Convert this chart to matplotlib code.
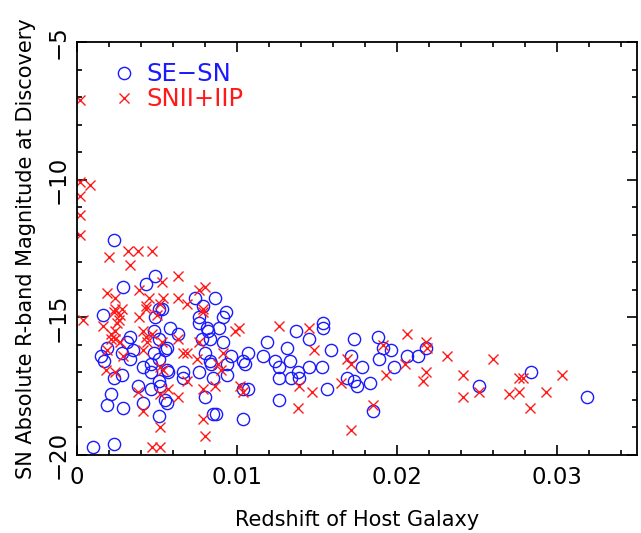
import matplotlib
matplotlib.use('Agg')
import matplotlib.pyplot as plt
from matplotlib.ticker import MultipleLocator

#### Data
# SE-SN (circles): redshift, absolute R mag
se_z = [0.0023, 0.0029, 0.0043, 0.0049, 0.0074, 0.0086, 0.0079, 0.0093, 0.0051, 0.0016,
        0.0076, 0.0091, 0.0049, 0.0033, 0.0031, 0.0019, 0.0015, 0.0017, 0.0028, 0.0033,
        0.0035, 0.0023, 0.0028, 0.0021, 0.0019, 0.0029, 0.0038, 0.0041, 0.0041, 0.0046,
        0.0046, 0.0048, 0.0048, 0.0053, 0.0051, 0.0056, 0.0055, 0.0058, 0.0063, 0.0051,
        0.0056, 0.0057, 0.0051, 0.0052, 0.0046, 0.0055, 0.0056, 0.0051, 0.0066, 0.0066,
        0.0076, 0.0081, 0.0082, 0.0083, 0.0078, 0.0076, 0.0080, 0.0083, 0.0084, 0.0085,
        0.0080, 0.0085, 0.0087, 0.0089, 0.0091, 0.0096, 0.0094, 0.0094, 0.0104, 0.0105,
        0.0107, 0.0104, 0.0107, 0.0104, 0.0116, 0.0119, 0.0010, 0.0023, 0.0124, 0.0126,
        0.0126, 0.0131, 0.0133, 0.0137, 0.0138, 0.0134, 0.0139, 0.0145, 0.0145, 0.0153,
        0.0154, 0.0154, 0.0159, 0.0156, 0.0126, 0.0173, 0.0171, 0.0169, 0.0173, 0.0175,
        0.0178, 0.0183, 0.0188, 0.0191, 0.0196, 0.0189, 0.0198, 0.0206, 0.0213, 0.0218,
        0.0185, 0.0251, 0.0284, 0.0319]
se_mag = [-12.2, -13.9, -13.8, -13.5, -14.3, -14.3, -14.6, -14.8, -14.7, -14.9,
          -15.0, -15.0, -15.0, -15.7, -15.9, -16.1, -16.4, -16.6, -16.3, -16.5,
          -16.2, -17.2, -17.1, -17.8, -18.2, -18.3, -17.5, -18.1, -16.8, -16.7,
          -17.0, -16.3, -15.5, -14.7, -15.8, -16.1, -16.2, -15.4, -15.6, -16.5,
          -16.9, -17.0, -17.3, -17.5, -17.6, -18.0, -18.1, -18.6, -17.0, -17.2,
          -15.2, -15.4, -15.5, -15.8, -15.8, -17.0, -16.3, -16.6, -16.7, -17.2,
          -17.9, -18.5, -18.5, -15.4, -15.9, -16.4, -16.7, -17.1, -16.6, -16.7,
          -16.3, -17.6, -17.6, -18.7, -16.4, -15.9, -19.7, -19.6, -16.6, -16.8,
          -17.2, -16.1, -16.6, -15.5, -17.0, -17.2, -17.2, -15.8, -16.8, -16.8,
          -15.2, -15.4, -16.2, -17.6, -18.0, -15.8, -16.4, -17.2, -17.3, -17.5,
          -16.8, -17.4, -15.7, -16.1, -16.2, -16.5, -16.8, -16.4, -16.4, -16.1,
          -18.4, -17.5, -17.0, -17.9]

# SNII+IIP (crosses)
ii_z = [0.0002, 0.0002, 0.0008, 0.0002, 0.0002, 0.0002, 0.0032, 0.0038, 0.0047, 0.0020,
        0.0033, 0.0063, 0.0019, 0.0024, 0.0039, 0.0053, 0.0045, 0.0076, 0.0080, 0.0063,
        0.0069, 0.0024, 0.0028, 0.0043, 0.0054, 0.0052, 0.0004, 0.0039, 0.0027, 0.0079,
        0.0016, 0.0021, 0.0024, 0.0025, 0.0026, 0.0023, 0.0021, 0.0024, 0.0019, 0.0018,
        0.0024, 0.0029, 0.0027, 0.0043, 0.0041, 0.0043, 0.0044, 0.0041, 0.0047, 0.0050,
        0.0053, 0.0052, 0.0054, 0.0057, 0.0063, 0.0063, 0.0052, 0.0038, 0.0041, 0.0052,
        0.0047, 0.0052, 0.0066, 0.0069, 0.0075, 0.0069, 0.0076, 0.0079, 0.0079, 0.0079,
        0.0080, 0.0086, 0.0088, 0.0090, 0.0091, 0.0099, 0.0101, 0.0102, 0.0104, 0.0126,
        0.0145, 0.0148, 0.0139, 0.0147, 0.0138, 0.0165, 0.0169, 0.0171, 0.0171, 0.0185,
        0.0191, 0.0193, 0.0206, 0.0205, 0.0218, 0.0219, 0.0218, 0.0216, 0.0231, 0.0241,
        0.0241, 0.0251, 0.0260, 0.0270, 0.0276, 0.0276, 0.0279, 0.0283, 0.0293, 0.0303]
ii_mag = [-7.1, -10.1, -10.2, -10.6, -11.3, -12.0, -12.6, -12.6, -12.6, -12.8,
          -13.1, -13.5, -14.1, -14.3, -14.0, -13.7, -14.3, -14.0, -13.9, -14.3,
          -14.5, -14.7, -14.7, -14.6, -14.3, -14.5, -15.1, -15.0, -14.9, -14.8,
          -15.3, -15.6, -15.5, -15.2, -15.1, -14.8, -15.8, -15.8, -16.2, -16.9,
          -17.0, -16.4, -15.9, -14.7, -15.5, -15.7, -15.9, -16.2, -15.6, -14.9,
          -15.9, -16.8, -16.9, -17.6, -15.8, -17.9, -17.8, -17.7, -18.4, -19.0,
          -19.7, -19.7, -16.3, -16.3, -16.5, -17.3, -15.9, -14.7, -17.6, -18.7,
          -19.3, -17.5, -16.7, -16.9, -16.3, -15.5, -15.4, -17.5, -17.7, -15.3,
          -15.4, -16.2, -17.5, -17.7, -18.3, -17.4, -16.5, -16.7, -19.1, -18.2,
          -16.0, -17.1, -15.6, -16.7, -15.9, -16.1, -17.0, -17.3, -16.4, -17.1,
          -17.9, -17.7, -16.5, -17.8, -17.7, -17.2, -17.2, -18.3, -17.7, -17.1]

xlim = (0, 0.035)
ylim = (-20, -5)
xticks = [0, 0.01, 0.02, 0.03]
xticklabels = ['0', '0.01', '0.02', '0.03']
yticks = [-20, -15, -10, -5]
yticklabels = ['\u221220', '\u221215', '\u221210', '\u22125']

#### Figure
fig = plt.figure(figsize=(6.41, 5.33), dpi=100)
ax = fig.add_axes([0.1201, 0.1463, 0.8737, 0.7749])

ax.plot(se_z, se_mag, 'o', ms=8.8, mfc='none', mec='#1a1aff', mew=1.0,
        ls='none', label='SE\u2212SN')
ax.plot(ii_z, ii_mag, 'x', ms=7, mec='#ff1a1a', mew=1.0,
        ls='none', label='SNII+IIP')

ax.set_xlim(*xlim)
ax.set_ylim(*ylim)
ax.set_xticks(xticks)
ax.set_xticklabels(xticklabels)
ax.set_yticks(yticks)
ax.set_yticklabels(yticklabels, rotation=90, va='center')
ax.xaxis.set_minor_locator(MultipleLocator(0.002))
ax.yaxis.set_minor_locator(MultipleLocator(1))

ax.tick_params(which='both', direction='in', top=True, right=True,
               width=1.2, colors='black')
ax.tick_params(which='major', length=7)
ax.tick_params(which='minor', length=3.5)
ax.tick_params(axis='x', labelsize=16.5, pad=8)
ax.tick_params(axis='y', labelsize=16.5, pad=5)
for sp in ax.spines.values():
    sp.set_linewidth(1.3)

ax.set_xlabel('Redshift of Host Galaxy', fontsize=15, labelpad=15)
ax.set_ylabel('SN Absolute R-band Magnitude at Discovery', fontsize=15, labelpad=8)

leg = ax.legend(loc='upper left', bbox_to_anchor=(0.05, 0.975), frameon=False,
                fontsize=17.5, handlelength=0.8, handletextpad=0.5,
                labelspacing=0.05, labelcolor='markeredgecolor',
                borderaxespad=0)

fig.savefig('out.png', dpi=100)
